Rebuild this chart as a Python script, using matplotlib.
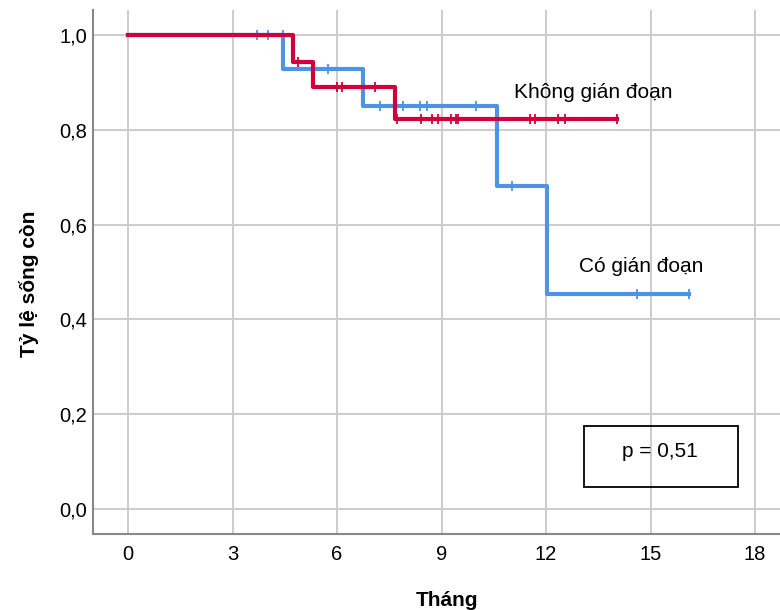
import numpy as np
import matplotlib.pyplot as plt
from matplotlib.ticker import FuncFormatter

plt.rcParams['font.family'] = ['Liberation Sans', 'DejaVu Sans']

# Kaplan-Meier steps
blue_t = [0, 4.46, 6.74, 10.60, 12.02, 16.10]
blue_s = [1.0, 0.928, 0.850, 0.681, 0.453, 0.453]
blue_cens = [3.69, 4.01, 4.44, 5.75, 7.22, 7.89, 8.38, 8.58, 9.98, 11.02, 14.62, 16.09]

red_t = [0, 4.73, 5.30, 7.67, 14.05]
red_s = [1.0, 0.944, 0.891, 0.822, 0.822]
red_cens = [4.89, 5.99, 6.14, 7.09, 7.71, 8.41, 8.72, 8.91, 9.27, 9.42, 9.47,
            11.54, 11.69, 12.35, 12.55, 14.03]

blue_lab = "Có gián đoạn"
red_lab = "Không gián đoạn"
p_text = "p = 0,51"

blue_c = "#4f93e4"
red_c = "#d2003a"


def surv_at(t, times, surv):
    idx = np.searchsorted(times, t, side="right") - 1
    return np.array(surv)[idx]


fig = plt.figure(figsize=(7.8, 6.1), dpi=100)
ax = fig.add_axes([0.1192, 0.1246, 0.881, 0.859])

ax.step(blue_t, blue_s, where="post", color=blue_c, lw=3, zorder=3)
ax.plot(blue_cens, surv_at(blue_cens, blue_t, blue_s), ls="none", marker="|",
        ms=6.5, mew=1.3, color=blue_c, zorder=3)
ax.step(red_t, red_s, where="post", color=red_c, lw=3, zorder=4)
ax.plot(red_cens, surv_at(red_cens, red_t, red_s), ls="none", marker="|",
        ms=6.5, mew=1.3, color=red_c, zorder=4)

ax.text(11.08, 0.878, red_lab, fontsize=15, va="center", ha="left")
ax.text(12.95, 0.511, blue_lab, fontsize=15, va="center", ha="left")

ax.add_patch(plt.Rectangle((13.09, 0.046), 4.42, 0.129, fill=False,
                           ec="black", lw=1.3, zorder=5))
ax.text(15.27, 0.122, p_text, fontsize=15, ha="center", va="center")

ax.set_xlim(-1.005, 18.72)
ax.set_ylim(-0.0527, 1.0527)
ax.set_xticks(range(0, 19, 3))
ax.set_yticks(np.arange(0, 1.01, 0.2))
ax.yaxis.set_major_formatter(FuncFormatter(lambda v, _: f"{v:.1f}".replace(".", ",")))
ax.tick_params(length=0, labelsize=14.5)
ax.tick_params(axis="x", pad=8)
ax.tick_params(axis="y", pad=4)
ax.grid(True, color="#cccccc", lw=1.4)
ax.set_axisbelow(True)

for s in ["top", "right"]:
    ax.spines[s].set_visible(False)
for s in ["left", "bottom"]:
    ax.spines[s].set_color("#888888")
    ax.spines[s].set_linewidth(1.5)

ax.set_xlabel("Tháng", fontsize=15, fontweight="bold", va="center")
ax.xaxis.set_label_coords(0.515, -0.126)
ax.set_ylabel("Tỷ lệ sống còn", fontsize=15, fontweight="bold", va="center")
ax.yaxis.set_label_coords(-0.093, 0.478)

fig.savefig("out.png", dpi=100)
